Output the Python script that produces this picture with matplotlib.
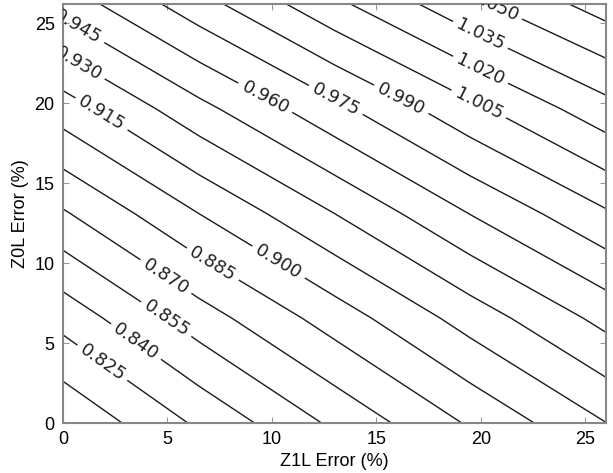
import numpy as np
import matplotlib.pyplot as plt

# grid (Z1L error along x, Z0L error along y)
z1l = [0, 6.5, 13, 19.5, 26]
z0l = [0, 6.55, 13.1, 19.65, 26.2]
ratio = [
    [0.7965, 0.8275, 0.8579, 0.8868, 0.9148],   # Z0L = 0
    [0.8304, 0.8629, 0.8919, 0.9215, 0.9497],   # Z0L = 6.55
    [0.8683, 0.9000, 0.9300, 0.9604, 0.9881],   # Z0L = 13.1
    [0.9075, 0.9404, 0.9709, 1.0011, 1.0295],   # Z0L = 19.65
    [0.9510, 0.9841, 1.0165, 1.0463, 1.0720],   # Z0L = 26.2
]
levels = [0.810, 0.825, 0.840, 0.855, 0.870, 0.885, 0.900, 0.915, 0.930,
          0.945, 0.960, 0.975, 0.990, 1.005, 1.020, 1.035, 1.050, 1.065]

# where the labels sit
label_pos = [(1.9, 3.8), (3.5, 5.1), (5.0, 6.6), (5.0, 9.3), (7.2, 10.0),
             (10.2, 9.8), (1.9, 19.45), (0.6, 22.2), (0.6, 24.5),
             (9.75, 20.5), (13.1, 20.3), (16.3, 20.5), (20.0, 20.2),
             (20.0, 22.1), (20.0, 24.3), (20.6, 25.95)]

plt.rcParams['font.family'] = ['Liberation Sans', 'DejaVu Sans']

fig = plt.figure(figsize=(6.13, 4.73), dpi=100)
ax = fig.add_axes([0.1028, 0.1057, 0.8858, 0.8858])

X, Y = np.meshgrid(z1l, z0l)
cs = ax.contour(X, Y, np.array(ratio), levels=levels, colors='#1a1a1a',
                linewidths=1.0)
texts = ax.clabel(cs, fmt='%.3f', fontsize=13, inline=True, inline_spacing=8,
                  manual=label_pos)
for t in texts:
    t.set_family('DejaVu Sans')
    t.set_color('#222222')
    t.set_clip_on(True)
    t.set_clip_path(ax.patch)

ax.set_xlim(0, 26)
ax.set_ylim(0, 26.2)
ax.set_xticks([0, 5, 10, 15, 20, 25])
ax.set_yticks([0, 5, 10, 15, 20, 25])
ax.tick_params(direction='in', top=True, right=True, length=4,
               color='#999999', labelsize=13, pad=6)
for s in ax.spines.values():
    s.set_color('#888888')
    s.set_linewidth(1.5)
ax.set_xlabel('Z1L Error (%)', fontsize=13, labelpad=3)
ax.set_ylabel('Z0L Error (%)', fontsize=13, labelpad=4)

fig.savefig('out.png', dpi=100)
